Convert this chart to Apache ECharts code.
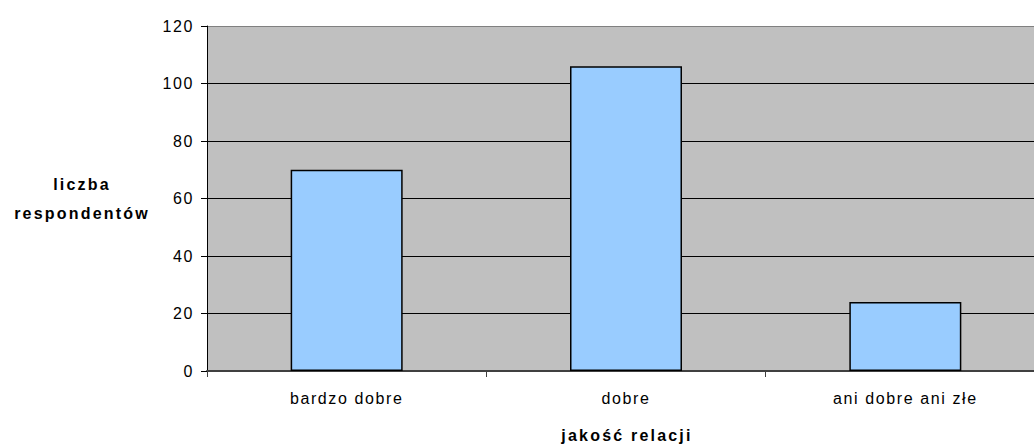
<!DOCTYPE html>
<html>
<head>
<meta charset="utf-8">
<script src="https://cdn.jsdelivr.net/npm/echarts@6/dist/echarts.min.js"></script>
<style>html,body{margin:0;padding:0;background:#fff;overflow:hidden;width:1034px;height:444px}#c{width:1052px;height:444px}
#c svg text{letter-spacing:1.6px}
#c svg text[style*="bold"]{letter-spacing:2.2px}</style>
</head>
<body>
<div id="c"></div>
<script>
const categories = ['bardzo dobre', 'dobre', 'ani dobre ani złe'];
const values = [70, 106, 24];
const yTicks = [0, 20, 40, 60, 80, 100, 120];
const yAxisTitle = 'liczba\nrespondentów';
const xAxisTitle = 'jakość relacji';

const chart = echarts.init(document.getElementById('c'), null, {renderer: 'svg'});
const font = 'Liberation Sans, Arial, sans-serif';
chart.setOption({
  animation: false,
  grid: {left: 207, right: 7, top: 26, height: 345, show: true, backgroundColor: '#C0C0C0', borderWidth: 0},
  xAxis: {
    type: 'category',
    data: categories,
    axisLine: {lineStyle: {color: '#404040', width: 2}},
    axisTick: {show: true, length: 6, lineStyle: {color: '#404040', width: 1}},
    axisLabel: {color: '#000', fontFamily: font, fontSize: 16, margin: 19}
  },
  yAxis: {
    type: 'value',
    min: yTicks[0],
    max: yTicks[yTicks.length - 1],
    interval: 20,
    axisLine: {show: true, lineStyle: {color: '#000', width: 1}},
    axisTick: {show: true, length: 6, lineStyle: {color: '#000'}},
    axisLabel: {color: '#000', fontFamily: font, fontSize: 16, margin: 13},
    splitLine: {show: true, lineStyle: {color: ['#000', '#000', '#000', '#000', '#000', '#000', '#808080'], width: 1}}
  },
  series: [{
    type: 'bar',
    data: values,
    barWidth: 112,
    itemStyle: {color: '#99CCFF', borderColor: '#000', borderWidth: 1.5}
  }],
  graphic: [
    {type: 'text', x: 82, y: 199, style: {text: yAxisTitle, fontFamily: font, fontSize: 16, fontWeight: 'bold', fill: '#000', align: 'center', verticalAlign: 'middle', lineHeight: 29}},
    {type: 'text', x: 627, y: 435, style: {text: xAxisTitle, fontFamily: font, fontSize: 16, fontWeight: 'bold', fill: '#000', align: 'center', verticalAlign: 'middle'}}
  ]
});
</script>
</body>
</html>
